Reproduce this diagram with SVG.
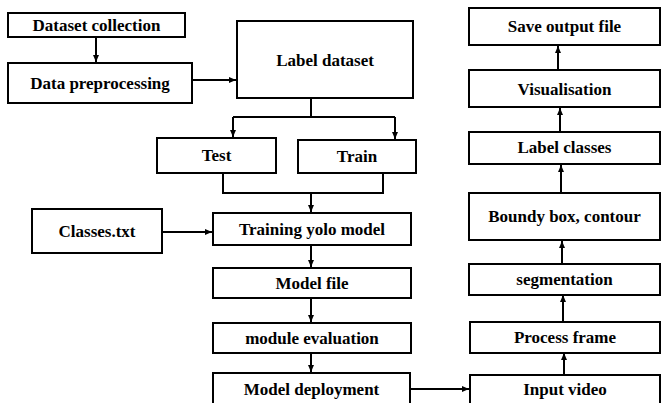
<svg xmlns="http://www.w3.org/2000/svg" width="661" height="403" viewBox="0 0 661 403">
<style>
.box{fill:#fff;stroke:#000;stroke-width:2}
.t{font-family:"Liberation Serif","Times New Roman",serif;font-weight:bold;font-size:17px;text-anchor:middle;fill:#000}
.c{fill:none;stroke:#000;stroke-width:2}
</style>
<defs>
<marker id="ah" markerUnits="userSpaceOnUse" markerWidth="8" markerHeight="8" viewBox="0 0 8 8" refX="7" refY="4" orient="auto">
<path d="M0,1 L7,4 L0,7 Z" fill="#000"/>
</marker>
</defs>
<rect width="661" height="403" fill="#fff"/>
<g id="connectors">
<path class="c" d="M96,37 V62" marker-end="url(#ah)"/>
<path class="c" d="M192,80 H236" marker-end="url(#ah)"/>
<path class="c" d="M311,98 V117 M233,117 H395"/>
<path class="c" d="M233,117 V137" marker-end="url(#ah)"/>
<path class="c" d="M395,117 V139" marker-end="url(#ah)"/>
<path class="c" d="M223,173 V193 H383 V173"/>
<path class="c" d="M311,193 V212" marker-end="url(#ah)"/>
<path class="c" d="M162,232 H212" marker-end="url(#ah)"/>
<path class="c" d="M311,245 V267" marker-end="url(#ah)"/>
<path class="c" d="M311,298 V322" marker-end="url(#ah)"/>
<path class="c" d="M311,353 V372" marker-end="url(#ah)"/>
<path class="c" d="M410,389 H469" marker-end="url(#ah)"/>
<path class="c" d="M564,375 V353" marker-end="url(#ah)"/>
<path class="c" d="M563,322 V295" marker-end="url(#ah)"/>
<path class="c" d="M562,264 V241" marker-end="url(#ah)"/>
<path class="c" d="M561,193 V165" marker-end="url(#ah)"/>
<path class="c" d="M560,132 V108" marker-end="url(#ah)"/>
<path class="c" d="M558,70 V46" marker-end="url(#ah)"/>
</g>
<g id="dataset-collection"><rect class="box" x="8" y="13" width="177" height="24"/><text class="t" x="96.5" y="31">Dataset collection</text></g>
<g id="data-preprocessing"><rect class="box" x="8" y="63" width="184" height="40"/><text class="t" x="100" y="89">Data preprocessing</text></g>
<g id="label-dataset"><rect class="box" x="237" y="21" width="176" height="77"/><text class="t" x="325" y="66">Label dataset</text></g>
<g id="test"><rect class="box" x="157" y="138" width="119" height="35"/><text class="t" x="216.5" y="161">Test</text></g>
<g id="train"><rect class="box" x="298" y="140" width="118" height="33"/><text class="t" x="357" y="162">Train</text></g>
<g id="classes-txt"><rect class="box" x="32" y="209" width="130" height="44"/><text class="t" x="97" y="237">Classes.txt</text></g>
<g id="training-yolo"><rect class="box" x="213" y="213" width="198" height="32"/><text class="t" x="312" y="235">Training yolo model</text></g>
<g id="model-file"><rect class="box" x="213" y="268" width="198" height="30"/><text class="t" x="312" y="289">Model file</text></g>
<g id="module-evaluation"><rect class="box" x="213" y="323" width="198" height="30"/><text class="t" x="312" y="344">module evaluation</text></g>
<g id="model-deployment"><rect class="box" x="213" y="373" width="197" height="33"/><text class="t" x="311.5" y="395">Model deployment</text></g>
<g id="input-video"><rect class="box" x="470" y="375" width="190" height="31"/><text class="t" x="565" y="395">Input video</text></g>
<g id="process-frame"><rect class="box" x="470" y="322" width="190" height="31"/><text class="t" x="565" y="343">Process frame</text></g>
<g id="segmentation"><rect class="box" x="469" y="264" width="191" height="31"/><text class="t" x="564.5" y="285">segmentation</text></g>
<g id="boundy-box"><rect class="box" x="469" y="193" width="191" height="47"/><text class="t" x="564.5" y="222">Boundy box, contour</text></g>
<g id="label-classes"><rect class="box" x="469" y="132" width="191" height="32"/><text class="t" x="564.5" y="153">Label classes</text></g>
<g id="visualisation"><rect class="box" x="469" y="70" width="191" height="37"/><text class="t" x="564.5" y="95">Visualisation</text></g>
<g id="save-output"><rect class="box" x="469" y="8" width="191" height="37"/><text class="t" x="564.5" y="32">Save output file</text></g>
</svg>
